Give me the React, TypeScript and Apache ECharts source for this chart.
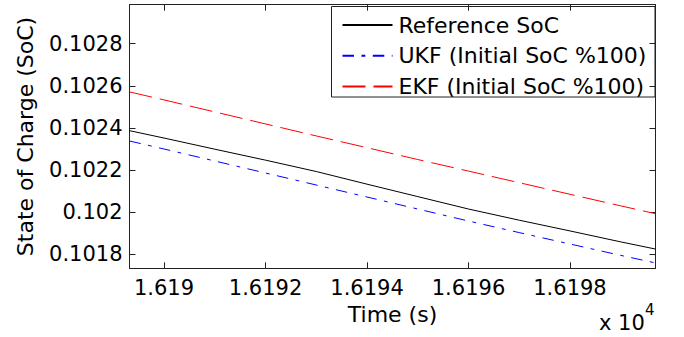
import React, { useEffect, useRef } from "react";
import * as echarts from "echarts";

const times = [16189.32, 16190, 16191, 16192, 16193, 16194, 16195, 16196, 16197, 16198, 16199, 16199.685];
const referenceSoC = [0.102387, 0.102352, 0.102299, 0.102247, 0.102193, 0.102133, 0.102074, 0.102015, 0.101962, 0.101911, 0.101859, 0.101825];
const ukfSoC = [0.102338, 0.1023, 0.102243, 0.102186, 0.102129, 0.102072, 0.102015, 0.101958, 0.101903, 0.101849, 0.101795, 0.101759];
const ekfSoC = [0.102571, 0.102533, 0.102476, 0.102419, 0.102362, 0.102306, 0.10225, 0.102195, 0.10214, 0.102085, 0.10203, 0.101993];

const seriesNames = ["Reference SoC", "UKF (Initial SoC %100)", "EKF (Initial SoC %100)"];

const xTicks = [16190, 16192, 16194, 16196, 16198];
const xTickLabels = ["1.619", "1.6192", "1.6194", "1.6196", "1.6198"];
const yTicks = [0.1018, 0.102, 0.1022, 0.1024, 0.1026, 0.1028];
const yTickLabels = ["0.1018", "0.102", "0.1022", "0.1024", "0.1026", "0.1028"];

const X_MIN = 16189.32;
const X_MAX = 16199.685;
const Y_MIN = 0.1017336;
const Y_MAX = 0.102985;

const FONT = "DejaVu Sans";
const AXIS_COLOR = "#222";

function pick(ticks: number[], labels: string[], v: number): string {
  for (let i = 0; i < ticks.length; i++) {
    if (Math.abs(ticks[i] - v) < 1e-9 * Math.max(1, Math.abs(v))) return labels[i];
  }
  return "";
}

export default function App() {
  const ref = useRef<HTMLDivElement>(null);
  useEffect(() => {
    if (!ref.current) return;
    const chart = echarts.init(ref.current, null, { renderer: "svg" });
    const pair = (arr: number[]) => times.map((t, i) => [t, arr[i]]);
    const tickCommon = { show: true, inside: true, length: 6, lineStyle: { color: AXIS_COLOR, width: 1 } };
    const lineCommon = { show: true, onZero: false, lineStyle: { color: AXIS_COLOR, width: 1 } };
    chart.setOption({
      animation: false,
      backgroundColor: "#fff",
      textStyle: { fontFamily: FONT },
      grid: {
        left: 129.5,
        right: 28.5,
        top: 4.7,
        bottom: 68.7,
        containLabel: false,
        outerBoundsMode: "none",
      },
      legend: {
        orient: "vertical",
        left: 341.5,
        top: 14,
        padding: 0,
        itemWidth: 50,
        itemHeight: 14,
        itemGap: 8.8,
        selectedMode: false,
        itemStyle: { opacity: 0, borderWidth: 0 },
        textStyle: { fontFamily: FONT, fontSize: 22, color: "#000", lineHeight: 22, padding: [0, 0, 0, 1] },
        data: seriesNames,
      },
      xAxis: [
        {
          type: "value",
          min: X_MIN,
          max: X_MAX,
          position: "bottom",
          name: "Time (s)",
          nameLocation: "middle",
          nameGap: 35,
          nameTextStyle: { fontFamily: FONT, fontSize: 22, color: "#000" },
          axisLine: lineCommon,
          axisTick: { ...tickCommon, customValues: xTicks },
          axisLabel: {
            show: true,
            customValues: xTicks,
            margin: 9,
            fontFamily: FONT,
            fontSize: 21,
            color: "#000",
            formatter: (v: number) => pick(xTicks, xTickLabels, v),
          },
          splitLine: { show: false },
        },
        {
          type: "value",
          min: X_MIN,
          max: X_MAX,
          position: "top",
          axisLine: lineCommon,
          axisTick: { ...tickCommon, customValues: xTicks },
          axisLabel: { show: false },
          splitLine: { show: false },
        },
      ],
      yAxis: [
        {
          type: "value",
          min: Y_MIN,
          max: Y_MAX,
          position: "left",
          name: "State of Charge (SoC)",
          nameLocation: "middle",
          nameGap: 93,
          nameTextStyle: { fontFamily: FONT, fontSize: 22, color: "#000" },
          axisLine: lineCommon,
          axisTick: { ...tickCommon, customValues: yTicks },
          axisLabel: {
            show: true,
            customValues: yTicks,
            margin: 7,
            fontFamily: FONT,
            fontSize: 21,
            color: "#000",
            formatter: (v: number) => pick(yTicks, yTickLabels, v),
          },
          splitLine: { show: false },
        },
        {
          type: "value",
          min: Y_MIN,
          max: Y_MAX,
          position: "right",
          axisLine: lineCommon,
          axisTick: { ...tickCommon, customValues: yTicks },
          axisLabel: { show: false },
          splitLine: { show: false },
        },
      ],
      graphic: [
        {
          type: "rect",
          shape: { x: 331.5, y: 6.5, width: 323.5, height: 90.5 },
          style: { fill: "none", stroke: AXIS_COLOR, lineWidth: 1 },
          z: 100,
        },
        {
          type: "text",
          x: 599,
          y: 312,
          style: { text: "x 10", fontFamily: FONT, fontSize: 21, fill: "#000" },
        },
        {
          type: "text",
          x: 645,
          y: 302,
          style: { text: "4", fontFamily: FONT, fontSize: 15, fill: "#000" },
        },
      ],
      series: [
        {
          name: seriesNames[0],
          type: "line",
          xAxisIndex: 0,
          yAxisIndex: 0,
          data: pair(referenceSoC),
          symbol: "none",
          lineStyle: { color: "#000", width: 1, type: "solid" },
          itemStyle: { color: "#000" },
        },
        {
          name: seriesNames[1],
          type: "line",
          xAxisIndex: 0,
          yAxisIndex: 0,
          data: pair(ukfSoC),
          symbol: "none",
          lineStyle: { color: "#0000ff", width: 1, type: [11.5, 7.5, 3.8, 7.5] },
          itemStyle: { color: "#0000ff" },
        },
        {
          name: seriesNames[2],
          type: "line",
          xAxisIndex: 0,
          yAxisIndex: 0,
          data: pair(ekfSoC),
          symbol: "none",
          lineStyle: { color: "#ff0000", width: 1, type: [23, 8] },
          itemStyle: { color: "#ff0000" },
        },
      ],
    });
    return () => chart.dispose();
  }, []);
  return (
    <div
      ref={ref}
      style={{ position: "fixed", left: 0, top: 0, width: 684, height: 337, background: "#fff" }}
    />
  );
}
